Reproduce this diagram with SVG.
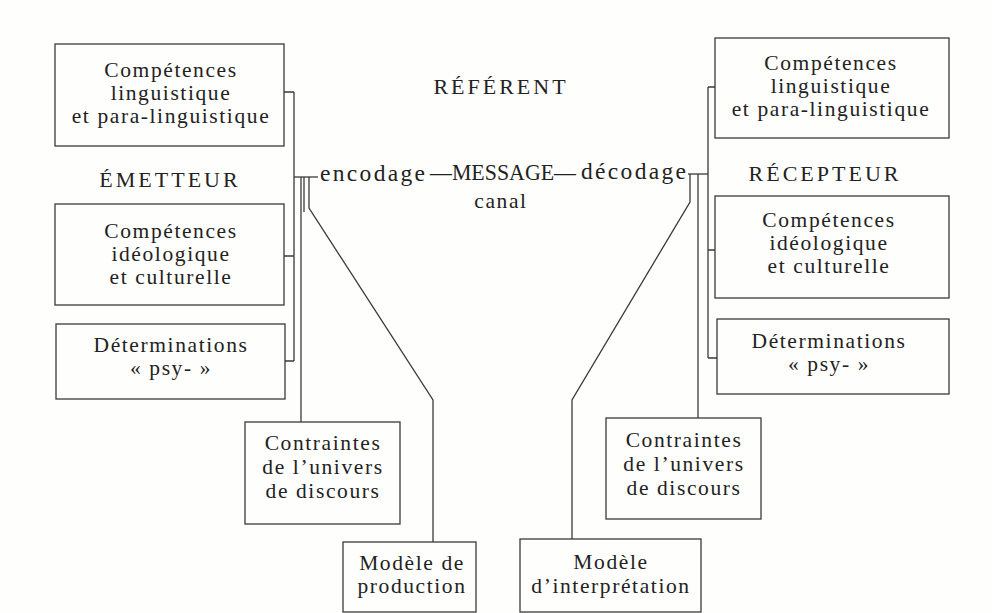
<svg xmlns="http://www.w3.org/2000/svg" width="992" height="613" viewBox="0 0 992 613">
<style>
  .bg { fill: #fefefc; }
  .box { fill: none; stroke: #3a3a3a; stroke-width: 1.3; }
  .t { font-family: "Liberation Serif", "Times New Roman", serif; font-size: 21.5px; letter-spacing: 1.6px; fill: #222; text-anchor: middle; }
  .h { font-family: "Liberation Serif", "Times New Roman", serif; font-size: 22px; letter-spacing: 3px; fill: #222; text-anchor: middle; }
  .m { font-family: "Liberation Serif", "Times New Roman", serif; font-size: 23.5px; fill: #222; }
  .c { fill: none; stroke: #3a3a3a; stroke-width: 1.3; }
</style>
<rect class="bg" x="0" y="0" width="992" height="613"/>

<g id="connectors">
  <!-- left (émetteur) -->
  <path class="c" d="M284 92 H294 M284 256 H294 M285 361 H294 M294 92 V361"/>
  <path class="c" d="M294 177 H318"/>
  <path class="c" d="M301 177 V422"/>
  <path class="c" d="M304 177 V212"/>
  <path class="c" d="M309 177 V208 L433 400 V542"/>
  <!-- right (récepteur) -->
  <path class="c" d="M708 87 H715 M708 250 H715 M708 358 H717 M708 87 V358"/>
  <path class="c" d="M688 174 H708"/>
  <path class="c" d="M698 174 V418"/>
  <path class="c" d="M690 174 V202 L572 400 V539"/>
</g>

<g id="referent">
  <text class="h" x="501" y="94">RÉFÉRENT</text>
</g>
<g id="message">
  <text class="m"><tspan x="320" y="181" textLength="105" lengthAdjust="spacing">encodage</tspan><tspan x="430" y="180" textLength="146" lengthAdjust="spacingAndGlyphs">—MESSAGE—</tspan><tspan x="581" y="179" textLength="105" lengthAdjust="spacing">décodage</tspan></text>
  <text class="t" x="501" y="208">canal</text>
</g>

<g id="emetteur">
  <text class="h" x="170" y="187">ÉMETTEUR</text>
</g>
<g id="e-ling">
  <rect class="box" x="55" y="44" width="229" height="102"/>
  <text class="t" x="171" y="77">Compétences</text>
  <text class="t" x="171" y="100">linguistique</text>
  <text class="t" x="171" y="123">et para-linguistique</text>
</g>
<g id="e-ideo">
  <rect class="box" x="55" y="204" width="229" height="101"/>
  <text class="t" x="171" y="238">Compétences</text>
  <text class="t" x="171" y="261">idéologique</text>
  <text class="t" x="171" y="284">et culturelle</text>
</g>
<g id="e-psy">
  <rect class="box" x="56" y="324" width="229" height="75"/>
  <text class="t" x="171" y="352">Déterminations</text>
  <text class="t" x="171" y="375">« psy- »</text>
</g>
<g id="e-contraintes">
  <rect class="box" x="245" y="422" width="155" height="102"/>
  <text class="t" x="323" y="450">Contraintes</text>
  <text class="t" x="323" y="474">de l’univers</text>
  <text class="t" x="323" y="498">de discours</text>
</g>
<g id="e-modele">
  <rect class="box" x="343" y="542" width="133" height="70"/>
  <text class="t" x="412" y="570">Modèle de</text>
  <text class="t" x="412" y="593">production</text>
</g>

<g id="recepteur">
  <text class="h" x="825" y="181">RÉCEPTEUR</text>
</g>
<g id="r-ling">
  <rect class="box" x="715" y="38" width="234" height="100"/>
  <text class="t" x="831" y="70">Compétences</text>
  <text class="t" x="831" y="93">linguistique</text>
  <text class="t" x="831" y="116">et para-linguistique</text>
</g>
<g id="r-ideo">
  <rect class="box" x="715" y="196" width="234" height="102"/>
  <text class="t" x="829" y="227">Compétences</text>
  <text class="t" x="829" y="250">idéologique</text>
  <text class="t" x="829" y="273">et culturelle</text>
</g>
<g id="r-psy">
  <rect class="box" x="717" y="319" width="232" height="75"/>
  <text class="t" x="829" y="348">Déterminations</text>
  <text class="t" x="829" y="371">« psy- »</text>
</g>
<g id="r-contraintes">
  <rect class="box" x="606" y="418" width="155" height="101"/>
  <text class="t" x="684" y="447">Contraintes</text>
  <text class="t" x="684" y="471">de l’univers</text>
  <text class="t" x="684" y="495">de discours</text>
</g>
<g id="r-modele">
  <rect class="box" x="520" y="539" width="181" height="73"/>
  <text class="t" x="611" y="569">Modèle</text>
  <text class="t" x="611" y="593">d’interprétation</text>
</g>
</svg>
